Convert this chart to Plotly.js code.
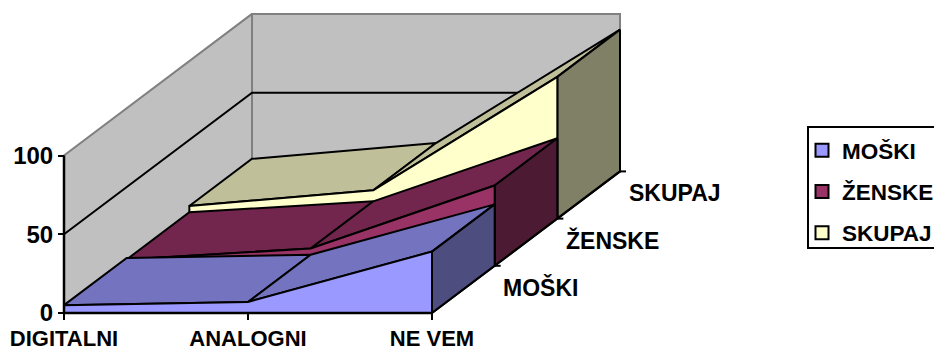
<!DOCTYPE html>
<html>
<head>
<meta charset="utf-8">
<script src="https://cdn.plot.ly/plotly-3.0.1.min.js"></script>
<style>html,body{margin:0;padding:0;background:#fff;overflow:hidden}</style>
</head>
<body>
<div id="chart" style="width:934px;height:351px"></div>
<script>
// Survey answers per category, one ribbon per respondent group
const categories = ['DIGITALNI', 'ANALOGNI', 'NE VEM'];
const seriesNames = ['MOŠKI', 'ŽENSKE', 'SKUPAJ'];
const moski = [5, 7, 39];
const zenske = [4, 11, 51];
const skupaj = [8, 18, 90];
const valueTicks = [0, 50, 100];

// Face colours per ribbon: front, top, end
const fronts = ['#9999FF', '#993366', '#FFFFCC'];
const tops = ['#7373BF', '#73264D', '#BFBF99'];
const ends = ['#4D4D80', '#4D1A33', '#808066'];

// Oblique 3D projection expressed in axis units
const W = 934, H = 351;
const originX = 64, originY = 313;
const pxPerCat = 184, pxPerVal = 1.575;
const depthX = 62.67 / pxPerCat, depthY = 47.2 / pxPerVal;
const project = (c, d, v) => [c + d * depthX, v + d * depthY];

function poly(points, fill, lineColor, width) {
  const p = points.map(q => project(q[0], q[1], q[2]));
  const t = {
    type: 'scatter', mode: 'lines', showlegend: false, hoverinfo: 'skip',
    x: p.map(q => q[0]), y: p.map(q => q[1]),
    line: {color: lineColor, width: width === undefined ? 2 : width, shape: 'linear'}
  };
  if (fill) { t.fill = 'toself'; t.fillcolor = fill; }
  return t;
}

const last = categories.length - 1;
const depths = seriesNames.length;
const traces = [];

// Walls and the gridline at 50
traces.push(poly([[0,0,0],[0,depths,0],[0,depths,100],[0,0,100],[0,0,0]], '#C0C0C0', '#808080'));
traces.push(poly([[0,depths,0],[last,depths,0],[last,depths,100],[0,depths,100],[0,depths,0]], '#C0C0C0', '#808080'));
traces.push(poly([[0,0,50],[0,depths,50],[last,depths,50]], null, '#000000'));

// Ribbons from the back row to the front row
[skupaj, zenske, moski].forEach((vals, i) => {
  const s = depths - 1 - i;
  for (let c = 0; c < last; c++) {
    traces.push(poly([[c,s,vals[c]],[c+1,s,vals[c+1]],[c+1,s+1,vals[c+1]],[c,s+1,vals[c]],[c,s,vals[c]]], tops[s], '#000000'));
  }
  traces.push(poly([[last,s,0],[last,s,vals[last]],[last,s+1,vals[last]],[last,s+1,0],[last,s,0]], ends[s], '#000000'));
  const front = vals.map((v, c) => [c, s, v]);
  traces.push(poly([[0,s,0]].concat(front, [[last,s,0],[0,s,0]]), fronts[s], '#000000'));
});

// Axis lines along the chart floor and the value edge
traces.push(poly([[0,0,0],[last,0,0]], null, '#000000', 2.5));
traces.push(poly([[0,0,0],[0,0,100]], null, '#000000', 2.5));
traces.push(poly([[last,0,0],[last,depths,0]], null, '#000000', 2));

// Depth axis tick marks
const tickLen = 6 / pxPerCat;
for (let d = 1; d <= depths; d++) {
  const a = project(last, d, 0);
  traces.push({type:'scatter', mode:'lines', showlegend:false, hoverinfo:'skip',
    x:[a[0], a[0] + tickLen], y:[a[1], a[1]], line:{color:'#000000', width:2}});
}

// Legend entries
seriesNames.forEach((name, s) => {
  traces.push({type:'scatter', mode:'markers', x:[null], y:[null], name:name, legendgroup:name,
    marker:{symbol:'square', size:13, color:fronts[s], line:{color:'#000000', width:2}}});
});

const fontFamily = '"Liberation Sans", Arial, sans-serif';
const annotations = seriesNames.map((name, s) => {
  const a = project(last, s + 1, 0);
  return {xref:'x', yref:'y', x:a[0], y:a[1], text:'<b>' + name + '</b>', showarrow:false,
    xanchor:'left', yanchor:'middle', xshift:6.5, yshift:-22,
    font:{family:fontFamily, size:23, color:'#000000'}};
});

// Legend frame runs on past the right edge of the page
const legendBox = {type:'rect', xref:'paper', yref:'paper', layer:'above',
  x0: 808 / W, x1: 945 / W, y0: 1 - 248 / H, y1: 1 - 127 / H,
  line:{color:'#000000', width:2}, fillcolor:'rgba(0,0,0,0)'};

const layout = {
  width: W, height: H,
  paper_bgcolor: '#FFFFFF', plot_bgcolor: '#FFFFFF',
  margin: {l: 0, r: 0, t: 0, b: 0, pad: 0, autoexpand: false},
  showlegend: true,
  legend: {
    x: 809 / W, xanchor: 'left',
    y: 1 - 129 / H, yanchor: 'top',
    bgcolor: 'rgba(0,0,0,0)', borderwidth: 0,
    indentation: -7,
    font: {family: fontFamily, size: 22.5, color: '#000000', weight: 'bold'},
    traceorder: 'grouped', tracegroupgap: 9, itemclick: false, itemdoubleclick: false
  },
  shapes: [legendBox],
  xaxis: {
    range: [-originX / pxPerCat, (W - originX) / pxPerCat],
    anchor: 'free', position: 1 - originY / H,
    tickmode: 'array',
    tickvals: categories.map((_, i) => i), ticktext: categories.map(c => '<b>' + c + '</b>'),
    ticks: 'outside', ticklen: 6, tickwidth: 2, tickcolor: '#000000',
    showgrid: false, zeroline: false, showline: false,
    tickfont: {family: fontFamily, size: 22, color: '#000000'}, automargin: false, fixedrange: true
  },
  yaxis: {
    range: [-(H - originY) / pxPerVal, originY / pxPerVal],
    anchor: 'free', position: originX / W,
    tickmode: 'array', tickvals: valueTicks,
    ticktext: valueTicks.map(v => '<b>' + v + '</b>'),
    ticks: 'outside', ticklen: 6, tickwidth: 2, tickcolor: '#000000',
    showgrid: false, zeroline: false, showline: false,
    tickfont: {family: fontFamily, size: 24, color: '#000000'}, automargin: false, fixedrange: true
  },
  annotations: annotations
};

Plotly.newPlot('chart', traces, layout, {displayModeBar: false, staticPlot: true});
</script>
</body>
</html>
